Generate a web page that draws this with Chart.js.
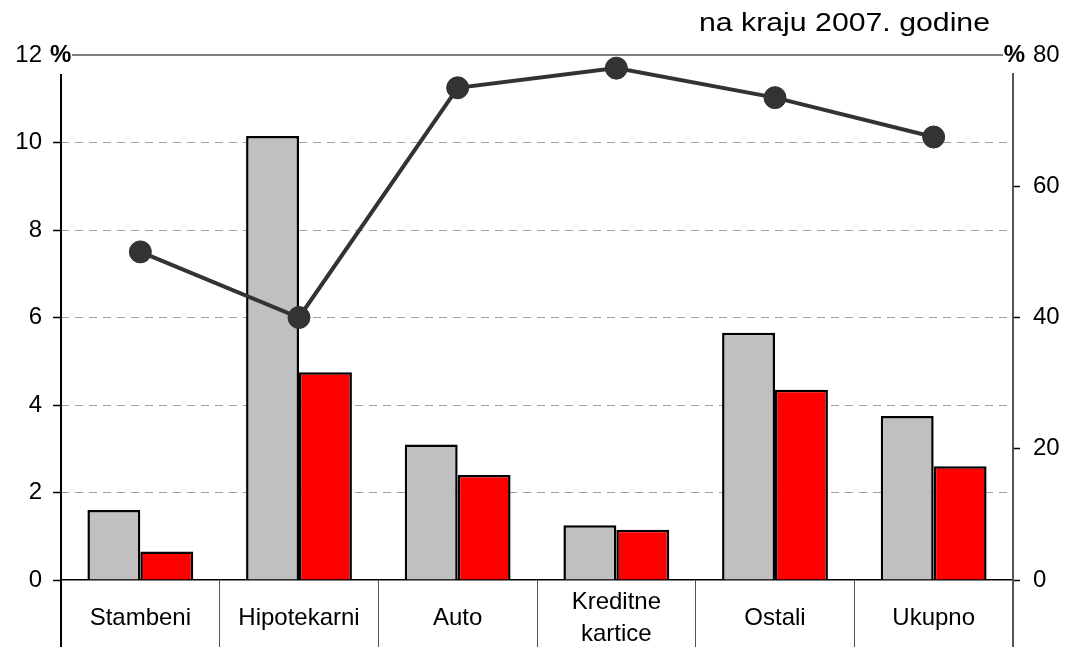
<!DOCTYPE html>
<html>
<head>
<meta charset="utf-8">
<script src="https://cdn.jsdelivr.net/npm/chart.js@4.4.1/dist/chart.umd.min.js"></script>
<style>
  html, body { margin: 0; padding: 0; background: #fff; }
  #wrap { width: 1069px; height: 647px; }
</style>
</head>
<body>
<div id="wrap"><canvas id="chart" width="1069" height="647"></canvas></div>
<script>
// --- data ---
const categories = ['Stambeni', 'Hipotekarni', 'Auto', ['Kreditne', 'kartice'], 'Ostali', 'Ukupno'];
const greyBars = [1.6, 10.15, 3.1, 1.25, 5.65, 3.75];   // left axis, %
const redBars = [0.65, 4.75, 2.4, 1.15, 4.35, 2.6];     // left axis, %
const lineValues = [50, 40, 75, 78, 73.5, 67.5];        // right axis, %
const leftTicks = [0, 2, 4, 6, 8, 10, 12];
const rightTicks = [0, 20, 40, 60, 80];
const titleText = 'na kraju 2007. godine';

const FONT = "'Liberation Sans', Arial, sans-serif";

// extra drawing: top border line, % signs, axis lines, title
const decor = {
    id: 'decor',
    beforeDatasetsDraw(chart) {
        const ctx = chart.ctx;
        const a = chart.chartArea;
        const top = chart.scales.y.getPixelForValue(leftTicks[leftTicks.length - 1]);
        ctx.save();
        ctx.strokeStyle = '#808080';
        ctx.lineWidth = 2;
        ctx.beginPath();
        ctx.moveTo(a.left + 11, top);
        ctx.lineTo(a.right - 10, top);
        ctx.stroke();

        // axis lines start a bit below the top line
        ctx.lineWidth = 2;
        ctx.strokeStyle = '#000';
        ctx.beginPath();
        ctx.moveTo(a.left, top + 19);
        ctx.lineTo(a.left, chart.height);
        ctx.stroke();
        ctx.strokeStyle = '#555';
        ctx.beginPath();
        ctx.moveTo(a.right, top + 18);
        ctx.lineTo(a.right, chart.height);
        ctx.stroke();
        ctx.restore();
    },
    afterDraw(chart) {
        const ctx = chart.ctx;
        const a = chart.chartArea;
        const top = chart.scales.y.getPixelForValue(leftTicks[leftTicks.length - 1]);
        ctx.save();
        ctx.fillStyle = '#000';
        ctx.font = 'bold 24px ' + FONT;
        ctx.textBaseline = 'middle';
        ctx.textAlign = 'left';
        ctx.fillText('%', a.left - 11, top);
        ctx.textAlign = 'right';
        ctx.fillText('%', a.right + 12, top);

        // the title is set in a wide face in the original, so stretch it a little
        ctx.font = '25px ' + FONT;
        ctx.textBaseline = 'alphabetic';
        ctx.textAlign = 'right';
        ctx.translate(a.right - 23, 31);
        ctx.scale(1.21, 1);
        ctx.fillText(titleText, 0, 0);
        ctx.restore();
    }
};

const ctx = document.getElementById('chart').getContext('2d');
new Chart(ctx, {
    type: 'bar',
    data: {
        labels: categories,
        datasets: [
            {
                type: 'line',
                data: lineValues,
                yAxisID: 'y1',
                order: 0,
                borderColor: '#333333',
                borderWidth: 4,
                tension: 0,
                pointRadius: 11,
                pointBorderWidth: 1,
                pointBackgroundColor: '#333333',
                pointBorderColor: '#333333'
            },
            {
                data: greyBars,
                yAxisID: 'y',
                order: 1,
                backgroundColor: '#c0c0c0',
                borderColor: '#000',
                borderWidth: 2.5,
                categoryPercentage: 0.667,
                barPercentage: 1.0
            },
            {
                data: redBars,
                yAxisID: 'y',
                order: 1,
                backgroundColor: '#ff0000',
                borderColor: '#000',
                borderWidth: 2.5,
                categoryPercentage: 0.667,
                barPercentage: 1.0
            }
        ]
    },
    options: {
        responsive: false,
        animation: false,
        layout: { padding: { top: 55, left: 0, right: 0, bottom: 0 } },
        plugins: { legend: { display: false }, tooltip: { enabled: false }, title: { display: false } },
        scales: {
            x: {
                offset: true,
                afterFit: s => { s.height = 67; },
                grid: {
                    offset: true,
                    drawOnChartArea: false,
                    drawTicks: true,
                    tickLength: 67,
                    tickColor: '#555',
                    tickWidth: 1
                },
                border: { display: true, color: '#000', width: 1.5 },
                ticks: {
                    color: '#000',
                    font: { family: FONT, size: 24, lineHeight: 1.33 },
                    padding: -45,
                    crossAlign: 'center',
                    maxRotation: 0,
                    autoSkip: false
                }
            },
            y: {
                position: 'left',
                min: 0,
                max: 12,
                afterFit: s => { s.width = 61; },
                afterBuildTicks: s => { s.ticks = leftTicks.map(v => ({ value: v })); },
                grid: {
                    color: c => (c.tick && (c.tick.value === 0 || c.tick.value === 12)) ? 'rgba(0,0,0,0)' : '#a0a0a0',
                    lineWidth: 1,
                    borderDash: [8, 6],
                    tickLength: 8,
                    tickColor: c => (c.tick && c.tick.value === 12) ? 'rgba(0,0,0,0)' : '#000',
                    tickWidth: 1.5,
                    tickBorderDash: []
                },
                border: { display: false, dash: [8, 6] },
                ticks: {
                    color: '#000',
                    padding: 11,
                    font: { family: FONT, size: 24 }
                }
            },
            y1: {
                position: 'right',
                min: 0,
                max: 80,
                afterFit: s => { s.width = 56; },
                afterBuildTicks: s => { s.ticks = rightTicks.map(v => ({ value: v })); },
                grid: {
                    drawOnChartArea: false,
                    tickLength: 7,
                    tickColor: c => (c.tick && c.tick.value === 80) ? 'rgba(0,0,0,0)' : '#000',
                    tickWidth: 1.5
                },
                border: { display: false },
                ticks: {
                    color: '#000',
                    padding: 13,
                    font: { family: FONT, size: 24 }
                }
            }
        }
    },
    plugins: [decor]
});
</script>
</body>
</html>
